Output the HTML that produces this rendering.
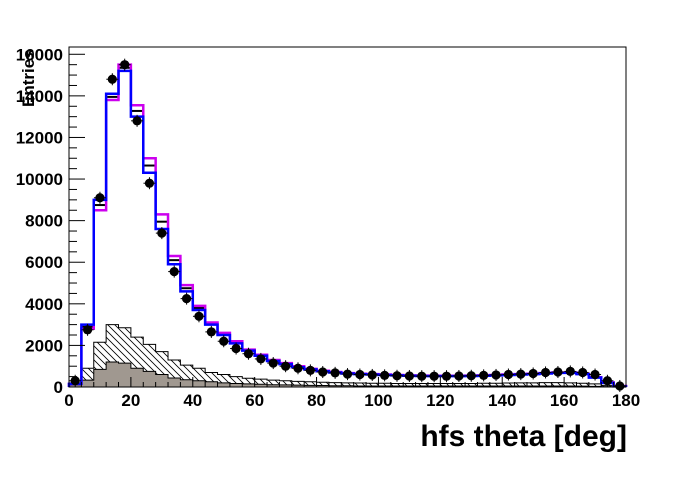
<!DOCTYPE html>
<html><head><meta charset="utf-8"><style>
body{margin:0;background:#fff}
svg text{font-family:"Liberation Sans",Arial,sans-serif;font-weight:bold}
</style></head><body>
<svg id="s" width="696" height="472" xmlns="http://www.w3.org/2000/svg">
<defs>
<pattern id="h" width="7" height="7" patternUnits="userSpaceOnUse">
<path d="M-1,-1 L8,8 M-8,-1 L1,8 M6,-1 L15,8" stroke="#000" stroke-width="0.8"/>
</pattern>
</defs>
<g id="g"></g>
<rect x="69" y="47" width="557" height="340" fill="none" stroke="#000" stroke-width="1"/>
<text x="627" y="446" font-size="30" text-anchor="end">hfs theta [deg]</text>
<text transform="translate(34,107) rotate(-90)" font-size="17">Entries</text>
</svg>
<script>
const X=v=>69+v*557/180, Y=v=>387-v*340/16350;
const data=[300,2750,9100,14800,15500,12800,9800,7400,5550,4250,3400,2650,2200,1850,1600,1350,1150,1000,900,800,720,680,620,600,580,560,540,530,520,520,520,530,540,560,580,600,620,650,700,720,750,700,600,300,50];
const blue=[150,3000,9000,14100,15200,13000,10300,7600,5900,4600,3700,3000,2500,2100,1750,1500,1250,1100,950,850,760,700,650,620,600,580,560,540,530,520,520,520,530,540,560,580,600,620,650,680,680,620,450,200,30];
const mag=blue.map((v,i)=>[150,2800,8500,13800,15500,13550,11000,8300,6300,4900,3900,3100,2600,2200,1800,1550,1300,1150,1000][i]||v+20);
const black=blue.map((v,i)=>(v+mag[i])/2);
const hat=[200,900,2150,3000,2850,2400,2050,1700,1300,1050,900,700,600,500,420,380,330,300,270,250,230,210,200,190,180,180,170,170,170,170,170,170,170,180,180,190,200,200,210,210,200,180,150,80,20];
const grey=[100,330,850,1200,1150,900,750,600,430,350,300,250,200,170,150,130,110,100,90,80,70,60,60,50,50,50,50,50,50,50,50,50,50,50,50,50,50,50,50,50,50,40,30,20,5];
let g='';
function step(a,fill,stroke,sw){let d='M'+X(0)+','+Y(0);a.forEach((v,i)=>{d+=' L'+X(i*4)+','+Y(v)+' L'+X(i*4+4)+','+Y(v)});d+=' L'+X(180)+','+Y(0);
g+=`<path d="${d}${fill!='none'?' Z':''}" fill="${fill}" stroke="${stroke}" stroke-width="${sw}"/>`;}
step(hat,'url(#h)','#000',1);
step(grey,'#a09890','#000',1);
black.forEach((v,i)=>{g+=`<line x1="${X(i*4)+1}" x2="${X(i*4+4)-1}" y1="${Y(v)}" y2="${Y(v)}" stroke="#000" stroke-width="2"/>`});
step(mag,'none','#cc00ee',2.5);
step(blue,'none','#0000ff',2.5);
data.forEach((v,i)=>{const x=X(i*4+2),y=Y(v);g+=`<line x1="${x-6}" x2="${x+6}" y1="${y}" y2="${y}" stroke="#000"/><line x1="${x}" x2="${x}" y1="${y-6}" y2="${y+6}" stroke="#000"/><circle cx="${x}" cy="${y}" r="4.6" fill="#000"/>`});
for(let v=0;v<=16000;v+=500){const y=Y(v),L=v%2000?8:16;g+=`<line x1="69" x2="${69+L}" y1="${y}" y2="${y}" stroke="#000"/>`;
 if(v%2000==0)g+=`<text x="63" y="${y+6}" font-size="17" text-anchor="end">${v}</text>`;}
for(let v=0;v<=180;v+=4){const x=X(v),L=v%20?5:10;g+=`<line x1="${x}" x2="${x}" y1="387" y2="${387-L}" stroke="#000"/>`;}
for(let v=0;v<=180;v+=20){g+=`<text x="${X(v)}" y="406" font-size="17" text-anchor="middle">${v}</text>`;}
document.getElementById('g').innerHTML=g;
</script>
</body></html>
